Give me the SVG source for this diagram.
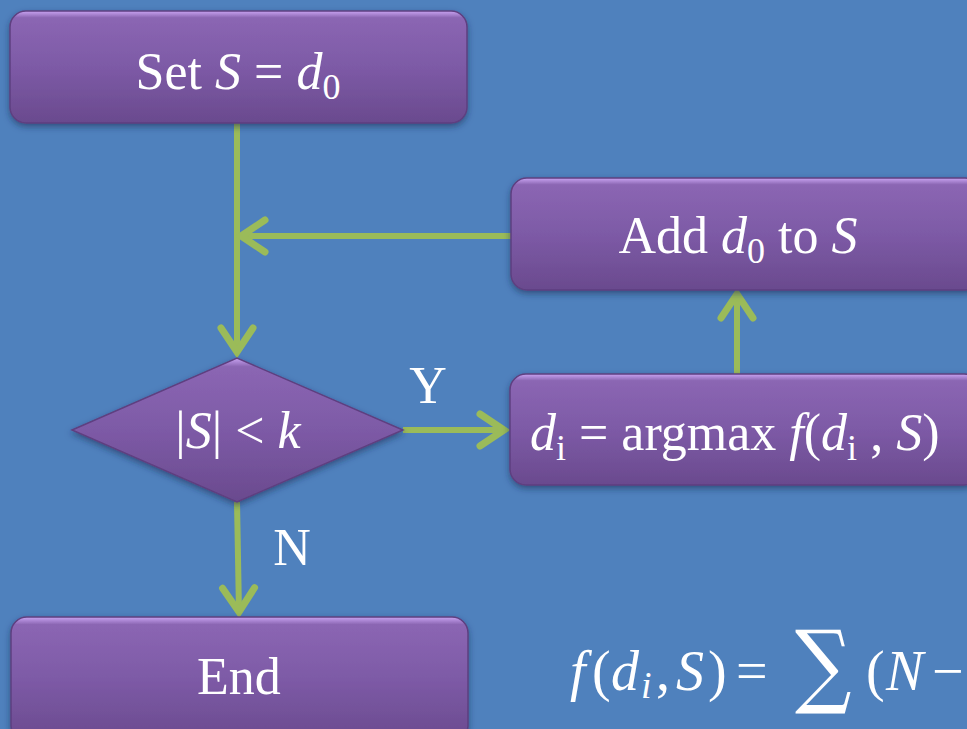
<svg xmlns="http://www.w3.org/2000/svg" width="967" height="729" viewBox="0 0 967 729">
<defs>
<linearGradient id="pg" x1="0" y1="0" x2="0" y2="1">
<stop offset="0" stop-color="#c9a4f2"/>
<stop offset="0.06" stop-color="#8b66b3"/>
<stop offset="0.5" stop-color="#7d5aa6"/>
<stop offset="1" stop-color="#6a4a8e"/>
</linearGradient>
<filter id="sh" x="-10%" y="-10%" width="120%" height="130%">
<feGaussianBlur in="SourceAlpha" stdDeviation="3"/>
<feOffset dy="3" result="b"/>
<feFlood flood-color="#1a2a50" flood-opacity="0.55"/>
<feComposite in2="b" operator="in"/>
<feMerge><feMergeNode/><feMergeNode in="SourceGraphic"/></feMerge>
</filter>
<marker id="ah" markerUnits="userSpaceOnUse" viewBox="-32 -20 40 40" refX="0" refY="0" markerWidth="40" markerHeight="40" orient="auto" overflow="visible">
<path d="M-24,-16 L0,0 L-24,16" fill="none" stroke="#9bbb59" stroke-width="7" stroke-linecap="round" stroke-linejoin="miter"/>
</marker>
</defs>
<style>
.node{fill:url(#pg);stroke:#5e3f80;stroke-width:1.5;filter:url(#sh)}
.t{font-family:"Liberation Serif",serif;fill:#fff;font-size:52px}
.i{font-style:italic}
.c{stroke:#9bbb59;stroke-width:6;fill:none;marker-end:url(#ah)}
.m{font-family:"Liberation Serif","DejaVu Serif",serif;fill:#fff;font-style:italic;font-size:56px}
.n{font-style:normal}
</style>
<rect width="967" height="729" fill="#4f81bd"/>
<g id="connectors">
<line class="c" x1="237" y1="123" x2="237" y2="352"/>
<line class="c" x1="511" y1="236" x2="241" y2="236"/>
<line class="c" x1="403" y1="430" x2="504" y2="430"/>
<line class="c" x1="737" y1="374" x2="737" y2="294"/>
<line class="c" x1="237" y1="502" x2="239" y2="612"/>
</g>
<g id="start">
<rect class="node" x="10" y="11" width="457" height="112" rx="16"/>
<text class="t" x="238" y="89" text-anchor="middle">Set <tspan class="i">S</tspan> = <tspan class="i">d</tspan><tspan font-size="36" dy="10">0</tspan></text>
</g>
<g id="add">
<rect class="node" x="511" y="178" width="470" height="112" rx="16"/>
<text class="t" x="738" y="253" text-anchor="middle">Add <tspan class="i">d</tspan><tspan font-size="36" dy="10">0</tspan><tspan dy="-10"> to </tspan><tspan class="i">S</tspan></text>
</g>
<g id="decision">
<polygon class="node" points="72,430 237,358 403,430 237,502"/>
<text class="t" x="238" y="448" text-anchor="middle">|<tspan class="i">S</tspan>| &lt; <tspan class="i">k</tspan></text>
</g>
<g id="argmax">
<rect class="node" x="510" y="374" width="470" height="111" rx="16"/>
<text class="t" x="530" y="450"><tspan class="i">d</tspan><tspan font-size="36" dy="10">i</tspan><tspan dy="-10"> = argmax </tspan><tspan class="i">f</tspan>(<tspan class="i">d</tspan><tspan font-size="36" dy="10">i</tspan><tspan dy="-10"> , </tspan><tspan class="i">S</tspan>)</text>
</g>
<g id="end">
<rect class="node" x="11" y="617" width="457" height="125" rx="16"/>
<text class="t" x="239" y="694" text-anchor="middle">End</text>
</g>
<text class="t" x="428" y="403" text-anchor="middle" font-size="48">Y</text>
<text class="t" x="292" y="565" text-anchor="middle" font-size="48">N</text>
<g id="formula">
<text class="m" y="690"><tspan x="570">f</tspan><tspan class="n" x="592">(</tspan><tspan x="611">d</tspan><tspan x="641" dy="8" font-size="38">i</tspan><tspan class="n" x="656" dy="-8">,</tspan><tspan x="676">S</tspan><tspan class="n" x="708">)</tspan><tspan class="n" x="736">=</tspan></text>
<text transform="translate(795,696) scale(0.86,1)" font-family="DejaVu Serif,serif" font-size="92" fill="#fff">∑</text>
<text class="m" y="690"><tspan class="n" x="866">(</tspan><tspan x="886">N</tspan><tspan class="n" x="932">−</tspan></text>
</g>
</svg>
